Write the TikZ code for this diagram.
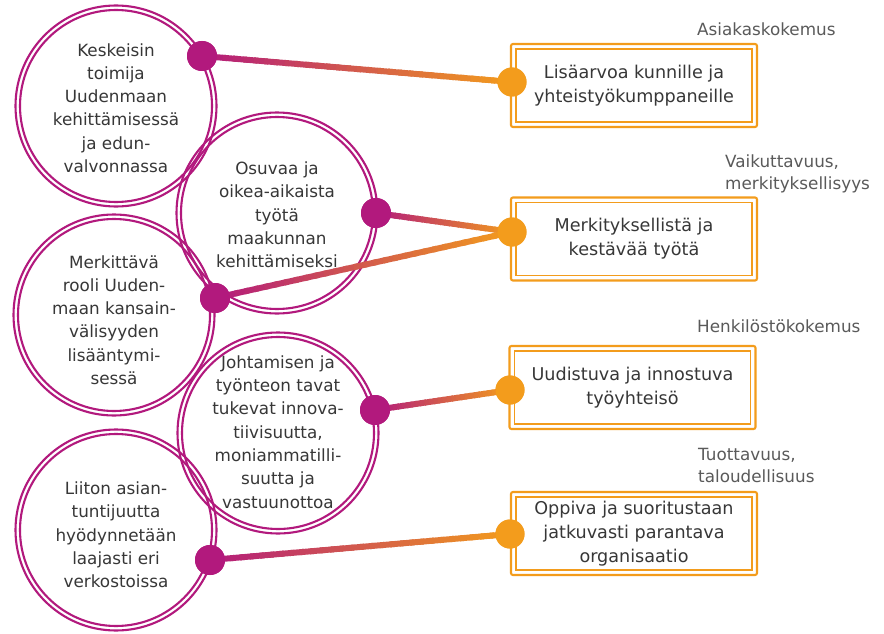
\documentclass[tikz,border=0pt]{standalone}
\usepackage{fontspec}
\setmainfont{DejaVu Sans}
\usetikzlibrary{calc}
\definecolor{mag}{RGB}{178,25,125}
\definecolor{org}{RGB}{243,156,28}
\definecolor{txt}{RGB}{55,55,55}
\definecolor{lbl}{RGB}{90,90,90}
\tikzset{
  circ/.style={circle, draw=mag, line width=2.1pt, minimum size=201pt, inner sep=0pt},
  circin/.style={circle, draw=mag, line width=2.1pt, minimum size=192pt, inner sep=0pt},
  ctext/.style={align=center, text=txt, inner sep=0pt, font=\fontsize{16.8}{23.3}\selectfont},
  mdot/.style={circle, fill=mag, minimum size=30pt, inner sep=0pt},
  odot/.style={circle, fill=org, minimum size=29pt, inner sep=0pt},
  boxo/.style={rectangle, draw=org, line width=2.1pt, rounded corners=2pt, minimum width=246pt, minimum height=83pt, inner sep=0pt},
  boxi/.style={rectangle, draw=org, line width=1.9pt, minimum width=236pt, minimum height=73pt, inner sep=0pt, align=center, text=txt, font=\fontsize{17.6}{24}\selectfont},
  lbltext/.style={anchor=west, align=left, text=lbl, inner sep=0pt, font=\fontsize{16.8}{22}\selectfont},
  conn/.style={line width=6pt}
}
\newcommand{\gradline}[2]{%
  \foreach \i in {0,...,29}{%
    \pgfmathsetmacro\ta{\i/30}%
    \pgfmathsetmacro\tb{min((\i+1.4)/30,1)}%
    \pgfmathtruncatemacro\pc{100-100*(\i+0.5)/30}%
    \draw[conn, draw=mag!\pc!org] ($(#1)!\ta!(#2)$) -- ($(#1)!\tb!(#2)$);
  }}
\begin{document}
\begin{tikzpicture}[x=1pt,y=-1pt]
\useasboundingbox (0,0) rectangle (884,634);
\fill[white] (0,0) rectangle (884,634);

% circles
\foreach \n/\x/\y in {c1/116/106, c2/277/213, c3/114/315, c4/278/433, c5/116/530}{
  \node[circ] (\n) at (\x,\y) {};
  \node[circin] (\n i) at (\x,\y) {};
}

% dots
\node[mdot] (m1) at (202,56) {};
\node[mdot] (m2) at (376,213) {};
\node[mdot] (m3) at (215,298) {};
\node[mdot] (m4) at (375,410) {};
\node[mdot] (m5) at (210,560) {};

% boxes
\node[boxo] (b1) at (634,85.5) {};
\node[boxo] (b2) at (634,239) {};
\node[boxo] (b3) at (632.5,387.5) {};
\node[boxo] (b4) at (634,533.5) {};

\node[odot] (o1) at (512,82) {};
\node[odot] (o2) at (512,232) {};
\node[odot] (o3) at (510,390) {};
\node[odot] (o4) at (510,534) {};

% connectors
\gradline{m1}{o1}
\gradline{m2}{o2}
\gradline{m3}{o2}
\gradline{m4}{o3}
\gradline{m5}{o4}

% redraw dots over lines
\node[mdot] at (m1) {};
\node[mdot] at (m2) {};
\node[mdot] at (m3) {};
\node[mdot] at (m4) {};
\node[mdot] at (m5) {};

\node[boxi] (b1i) at (b1) {Lisäarvoa kunnille ja\\yhteistyökumppaneille};
\node[boxi] (b2i) at (b2) {Merkityksellistä ja\\kestävää työtä};
\node[boxi] (b3i) at (b3) {Uudistuva ja innostuva\\työyhteisö};
\node[boxi] (b4i) at (b4) {Oppiva ja suoritustaan\\jatkuvasti parantava\\organisaatio};

\node[odot] at (o1) {};
\node[odot] at (o2) {};
\node[odot] at (o3) {};
\node[odot] at (o4) {};

% circle texts
\node[ctext] (t1) at (116,108) {Keskeisin\\toimija\\Uudenmaan\\kehittämisessä\\ja edun-\\valvonnassa};
\node[ctext] (t2) at (277,215) {Osuvaa ja\\oikea-aikaista\\työtä\\maakunnan\\kehittämiseksi};
\node[ctext] (t3) at (114,320) {Merkittävä\\rooli Uuden-\\maan kansain-\\välisyyden\\lisääntymi-\\sessä};
\node[ctext] (t4) at (278,432) {Johtamisen ja\\työnteon tavat\\tukevat innova-\\tiivisuutta,\\moniammatilli-\\suutta ja\\vastuunottoa};
\node[ctext] (t5) at (116,535) {Liiton asian-\\tuntijuutta\\hyödynnetään\\laajasti eri\\verkostoissa};

% labels
\node[lbltext] (l1) at (697,29) {Asiakaskokemus};
\node[lbltext] (l2) at (725,174) {Vaikuttavuus,\\merkityksellisyys};
\node[lbltext] (l3) at (697,326) {Henkilöstökokemus};
\node[lbltext] (l4) at (698,465) {Tuottavuus,\\taloudellisuus};
\end{tikzpicture}
\end{document}
